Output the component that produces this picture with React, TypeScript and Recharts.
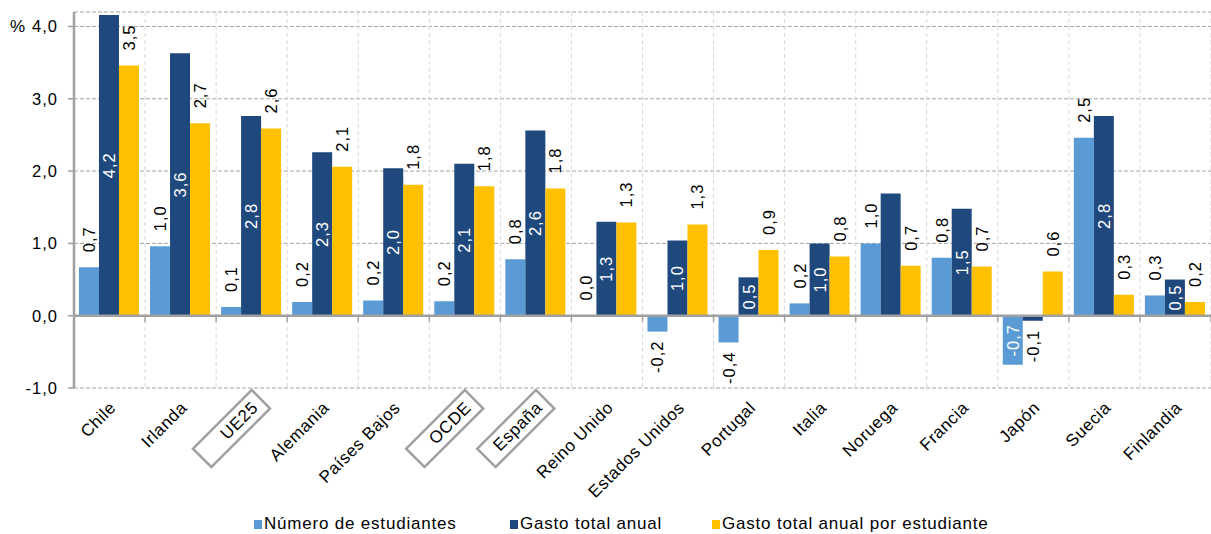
import {
  Bar,
  BarChart,
  CartesianGrid,
  LabelList,
  Legend,
  ReferenceLine,
  XAxis,
  YAxis,
} from "recharts";

const categories = [
  "Chile", "Irlanda", "UE25", "Alemania", "Países Bajos", "OCDE", "España", "Reino Unido",
  "Estados Unidos", "Portugal", "Italia", "Noruega", "Francia", "Japón", "Suecia", "Finlandia",
];
// categories drawn with a frame round the tick label
const boxedCategories = ["UE25", "OCDE", "España"];

const numeroEstudiantes = [0.67, 0.96, 0.12, 0.19, 0.21, 0.2, 0.78, 0.004, -0.22, -0.37, 0.17, 1.0, 0.8, -0.68, 2.46, 0.28];
const gastoTotal = [4.16, 3.63, 2.76, 2.26, 2.04, 2.1, 2.56, 1.3, 1.04, 0.53, 1.0, 1.69, 1.48, -0.07, 2.76, 0.5];
const gastoPorEstudiante = [3.46, 2.66, 2.59, 2.06, 1.81, 1.79, 1.76, 1.29, 1.26, 0.91, 0.82, 0.69, 0.68, 0.61, 0.29, 0.19];

const yTicks = [-1, 0, 1, 2, 3, 4];

const seriesNames = ["Número de estudiantes", "Gasto total anual", "Gasto total anual por estudiante"];
const colors = ["#5B9BD5", "#1F497D", "#FFC000"];

const data = categories.map((name, i) => ({
  name,
  est: numeroEstudiantes[i],
  total: gastoTotal[i],
  porEst: gastoPorEstudiante[i],
}));

const FONT = "'Liberation Sans', Arial, sans-serif";
const AXIS = "#A0A0A0";
const PLOT_LEFT = 74;
const CHART_W = 1211;

const fmt = (v: number) => v.toFixed(1).replace(".", ",");

// labels that break the series' usual placement (inside = white, centred in the bar)
const labelRules: Record<string, { flip: string[]; hidden: string[]; defaultInside: boolean }> = {
  est: { flip: ["Japón"], hidden: [], defaultInside: false },
  total: { flip: ["Japón"], hidden: ["Noruega"], defaultInside: true },
  porEst: { flip: [], hidden: [], defaultInside: false },
};

const makeLabel = (key: string) => (props: any) => {
  const vb = props.viewBox && props.viewBox.width !== undefined ? props.viewBox : props;
  const { x, y, width, height } = vb;
  const { value } = props;
  const cx = x + width / 2;
  const band = (CHART_W - PLOT_LEFT) / categories.length;
  const cat: string =
    props.payload?.name ?? categories[Math.floor((cx - PLOT_LEFT) / band)] ?? "";
  const rule = labelRules[key];
  if (rule.hidden.includes(cat)) return null;
  const inside = rule.flip.includes(cat) ? !rule.defaultInside : rule.defaultInside;
  const top = Math.min(y, y + height);
  const bottom = Math.max(y, y + height);
  let ty: number;
  let anchor: "start" | "end" | "middle";
  if (inside) {
    ty = (top + bottom) / 2;
    anchor = "middle";
  } else if (value >= 0) {
    ty = top - 15;
    anchor = "start";
  } else {
    ty = bottom + 9;
    anchor = "end";
  }
  return (
    <text
      x={cx}
      y={ty}
      transform={`rotate(-90 ${cx} ${ty})`}
      textAnchor={anchor}
      dominantBaseline="central"
      fontFamily={FONT}
      fontSize={16.5}
      letterSpacing={1}
      fill={inside ? "#fff" : "#000"}
    >
      {fmt(value)}
    </text>
  );
};

function ValueTick({ x, y, payload }: any) {
  return (
    <g>
      {payload.value === 4 && (
        <text x={10} y={y} dominantBaseline="central" fontFamily={FONT} fontSize={17} fill="#000">
          %
        </text>
      )}
      <text
        x={x}
        y={y}
        textAnchor="end"
        dominantBaseline="central"
        fontFamily={FONT}
        fontSize={16.5}
        letterSpacing={1}
        fill="#000"
      >
        {fmt(payload.value)}
      </text>
    </g>
  );
}

function CategoryTick({ x, y, payload }: any) {
  const boxed = boxedCategories.includes(payload.value);
  return (
    <g transform={`translate(${x},${y + 2}) rotate(-45)`}>
      {boxed && <rect x={-83} y={0} width={83} height={26} fill="none" stroke={AXIS} strokeWidth={2.5} />}
      <text
        x={-8}
        y={13}
        textAnchor="end"
        dominantBaseline="central"
        fontFamily={FONT}
        fontSize={17}
        letterSpacing={0.6}
        fill="#000"
      >
        {payload.value}
      </text>
    </g>
  );
}

// zero line with small tick marks at the category boundaries
function ZeroLine(props: any) {
  const { x1, y1, x2 } = props;
  const step = (x2 - x1) / categories.length;
  return (
    <g>
      <line x1={x1} y1={y1} x2={x2} y2={y1} stroke={AXIS} strokeWidth={2.5} />
      {categories.map((c, i) => (
        <line key={c} x1={x1 + (i + 1) * step} y1={y1} x2={x1 + (i + 1) * step} y2={y1 + 6} stroke={AXIS} strokeWidth={1.5} />
      ))}
    </g>
  );
}

const itemWidths = [256, 202, 300];

function LegendRow() {
  return (
    <div style={{ display: "flex", paddingLeft: 254, height: 20, alignItems: "center" }}>
      {seriesNames.map((s, i) => (
        <div key={s} style={{ display: "flex", alignItems: "center", width: itemWidths[i] }}>
          <span style={{ width: 8, height: 9, background: colors[i], marginRight: 2 }} />
          <span style={{ fontFamily: FONT, fontSize: 17, letterSpacing: 0.8, color: "#000", whiteSpace: "nowrap" }}>{s}</span>
        </div>
      ))}
    </div>
  );
}

export default function App() {
  return (
    <div style={{ position: "absolute", left: 0, top: 0, background: "#fff" }}>
      <BarChart
        width={CHART_W}
        height={534}
        data={data}
        margin={{ top: 12, right: 0, left: 0, bottom: 0 }}
        barCategoryGap="7%"
        barGap={0}
      >
        <CartesianGrid vertical={false} stroke="#A6A6A6" strokeDasharray="4 2" />
        <CartesianGrid
          horizontal={false}
          stroke="#D9D9D9"
          strokeDasharray="4 3"
          verticalCoordinatesGenerator={({ width, offset }: any) => {
            const w = offset.width ?? width - offset.left - offset.right;
            return categories.map((_, i) => offset.left + ((i + 1) * w) / categories.length);
          }}
        />
        <XAxis
          dataKey="name"
          interval={0}
          height={126}
          tickSize={0}
          tickMargin={0}
          tickLine={false}
          axisLine={false}
          tick={<CategoryTick />}
        />
        <YAxis
          type="number"
          domain={[-1, 4.2]}
          ticks={yTicks}
          width={PLOT_LEFT}
          tickSize={6}
          tickMargin={10}
          axisLine={{ stroke: AXIS, strokeWidth: 2.5 }}
          tickLine={{ stroke: AXIS, strokeWidth: 1.5 }}
          tick={<ValueTick />}
        />
        <Legend verticalAlign="bottom" wrapperStyle={{ left: 0, width: CHART_W, bottom: 0 }} content={() => <LegendRow />} />
        <Bar dataKey="est" name={seriesNames[0]} fill={colors[0]} isAnimationActive={false}>
          <LabelList dataKey="est" content={makeLabel("est")} />
        </Bar>
        <Bar dataKey="total" name={seriesNames[1]} fill={colors[1]} isAnimationActive={false}>
          <LabelList dataKey="total" content={makeLabel("total")} />
        </Bar>
        <Bar dataKey="porEst" name={seriesNames[2]} fill={colors[2]} isAnimationActive={false}>
          <LabelList dataKey="porEst" content={makeLabel("porEst")} />
        </Bar>
        <ReferenceLine y={0} ifOverflow="visible" shape={<ZeroLine />} />
      </BarChart>
    </div>
  );
}
